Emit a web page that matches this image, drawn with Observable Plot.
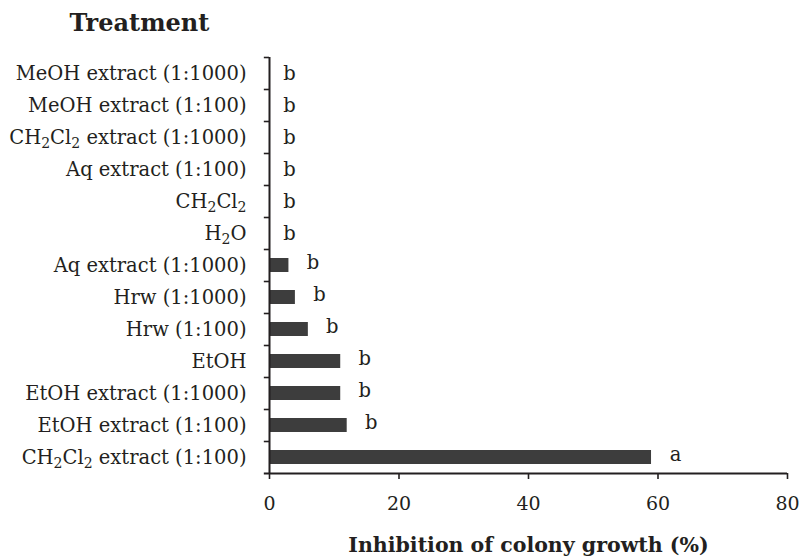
<!DOCTYPE html>
<html>
<head>
<meta charset="utf-8">
<script src="https://cdn.jsdelivr.net/npm/d3@7"></script>
<script src="https://cdn.jsdelivr.net/npm/@observablehq/plot@0.6"></script>
<style>
  html, body { margin: 0; padding: 0; background: #fff; }
  #chart svg { display: block; }
</style>
</head>
<body>
<div id="chart"></div>
<script>
const treatments = [
  "MeOH extract (1:1000)",
  "MeOH extract (1:100)",
  "CH₂Cl₂ extract (1:1000)",
  "Aq extract (1:100)",
  "CH₂Cl₂",
  "H₂O",
  "Aq extract (1:1000)",
  "Hrw (1:1000)",
  "Hrw (1:100)",
  "EtOH",
  "EtOH extract (1:1000)",
  "EtOH extract (1:100)",
  "CH₂Cl₂ extract (1:100)"
];
const inhibition = [0, 0, 0, 0, 0, 0, 3, 4, 6, 11, 11, 12, 59];
const letters = ["b", "b", "b", "b", "b", "b", "b", "b", "b", "b", "b", "b", "a"];
const xTicks = [0, 20, 40, 60, 80];

const data = treatments.map((t, i) => ({treatment: t, value: inhibition[i], letter: letters[i]}));
const last = treatments[treatments.length - 1];
const font = "'DejaVu Serif', serif";
const ink = "#231f20";

const chart = Plot.plot({
  width: 801,
  height: 557,
  marginLeft: 269,
  marginRight: 14,
  marginTop: 57,
  marginBottom: 84,
  style: {fontFamily: font, fontSize: "19px", color: ink, background: "#fff"},
  x: {domain: [0, 80], ticks: xTicks},
  y: {domain: treatments, padding: 0, axis: null},
  marks: [
    Plot.barX(data, {x: "value", y: "treatment", fill: "#3d3d3d", insetTop: 9, insetBottom: 9}),
    Plot.text(data, {filter: d => d.value === 0, x: "value", y: "treatment", text: "letter", dx: 20, fill: ink, fontSize: 19.5}),
    Plot.text(data, {filter: d => d.value > 0, x: "value", y: "treatment", text: "letter", dx: 24, dy: -3, fill: ink, fontSize: 19.5}),
    Plot.axisY({tickSize: 0, tickPadding: 23, fontSize: 19.5, fill: ink, label: null}),
    Plot.axisX({ticks: xTicks, tickSize: 6, tickPadding: 17, fontSize: 19, stroke: ink, strokeWidth: 1.6, fill: ink, label: null}),
    Plot.ruleX([0], {stroke: ink, strokeWidth: 2}),
    Plot.ruleY(treatments, {y: d => d, x1: -0.8, x2: 0, dy: -16, stroke: ink, strokeWidth: 1.6}),
    Plot.ruleY([last], {y: d => d, x1: -0.8, x2: 80, dy: 16, stroke: ink, strokeWidth: 2}),
    Plot.text(["Inhibition of colony growth (%)"], {frameAnchor: "bottom", dy: 78, fontWeight: "bold", fontSize: 20.5, fill: ink}),
    Plot.text(["Treatment"], {frameAnchor: "top-left", textAnchor: "start", dx: -200, dy: -44, fontWeight: "bold", fontSize: 24, fill: ink})
  ]
});

// Render chemical subscripts as lowered, smaller digits
chart.querySelectorAll("text").forEach(t => {
  const s = t.textContent;
  if (!s.includes("₂")) return;
  const parts = s.split(/(₂)/);
  while (t.firstChild) t.removeChild(t.firstChild);
  let shifted = false;
  parts.forEach(p => {
    if (!p) return;
    const ts = document.createElementNS("http://www.w3.org/2000/svg", "tspan");
    if (p === "₂") {
      ts.textContent = "2";
      ts.setAttribute("font-size", "0.72em");
      ts.setAttribute("dy", "0.3em");
      shifted = true;
    } else {
      ts.textContent = p;
      if (shifted) { ts.setAttribute("dy", "-0.216em"); shifted = false; }
    }
    t.appendChild(ts);
  });
});
document.getElementById("chart").appendChild(chart);
</script>
</body>
</html>
